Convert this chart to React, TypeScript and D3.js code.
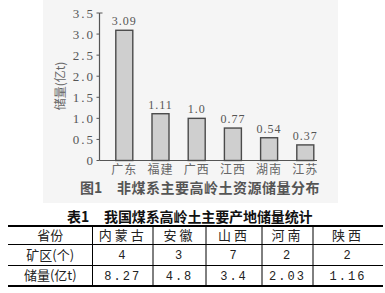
import React from "react";
import * as d3 from "d3";

const categories = ["广东", "福建", "广西", "江西", "湖南", "江苏"];
const values = [3.09, 1.11, 1.0, 0.77, 0.54, 0.37];
const valueLabels = ["3.09", "1.11", "1.0", "0.77", "0.54", "0.37"];
const yTicks = [0, 0.5, 1.0, 1.5, 2.0, 2.5, 3.0, 3.5];

const tableHeader = ["省份", "内蒙古", "安徽", "山西", "河南", "陕西"];
const tableMines = ["矿区(个)", "4", "3", "7", "2", "2"];
const tableReserves = ["储量(亿t)", "8.27", "4.8", "3.4", "2.03", "1.16"];

const W = 385;
const H = 293;
const CJK = "'Noto Sans CJK SC', sans-serif";
const SERIF = "'Liberation Serif', 'DejaVu Serif', serif";
const MONO = "'Liberation Mono', 'DejaVu Sans Mono', monospace";

export default function App() {
  const y = d3.scaleLinear().domain([0, 3.5]).range([160.5, 13]);
  const x = d3.scalePoint<string>().domain(categories).range([124.3, 305.3]);
  const barW = 17;
  const axisX = 99.5;

  const colEdges = [8, 92.5, 153, 206, 262, 313, 383];
  const rowYs = [226, 244.5, 265.5, 286];
  const rows = [tableHeader, tableMines, tableReserves];

  return (
    <svg
      width={W}
      height={H}
      style={{ position: "absolute", left: 0, top: 0, background: "#fff" }}
    >
      <rect x={43} y={0} width={295} height={203} fill="#f5f5f5" />
      {/* axes */}
      <line x1={axisX} x2={axisX} y1={y(3.5)} y2={y(0)} stroke="#555" strokeWidth={1.2} />
      <line x1={axisX} x2={317} y1={y(0)} y2={y(0)} stroke="#555" strokeWidth={1.2} />
      {yTicks.map((t) => (
        <g key={t}>
          <line
            x1={axisX - 3}
            x2={axisX}
            y1={y(t)}
            y2={y(t)}
            stroke="#555"
            strokeWidth={1}
          />
          <text
            x={95}
            y={y(t)}
            dy="0.35em"
            textAnchor="end"
            fontFamily={SERIF}
            fontSize={13}
            letterSpacing={2}
            fill="#555"
          >
            {t === 0 ? "0" : t.toFixed(1)}
          </text>
        </g>
      ))}
      <line x1={axisX} x2={axisX + 3} y1={y(3.5)} y2={y(3.5)} stroke="#555" strokeWidth={1} />
      <text
        transform={`translate(61,86) rotate(-90)`}
        textAnchor="middle"
        dy="0.35em"
        fontFamily={CJK}
        fontSize={12}
        fill="#666"
      >
        储量(亿t)
      </text>
      {/* bars */}
      {categories.map((c, i) => (
        <g key={c}>
          <rect
            x={(x(c) as number) - barW / 2}
            y={y(values[i])}
            width={barW}
            height={y(0) - y(values[i])}
            fill="#cfcfcf"
            stroke="#4a4a4a"
            strokeWidth={1.4}
          />
          <text
            x={x(c) as number}
            y={y(values[i]) - 5}
            textAnchor="middle"
            fontFamily={SERIF}
            fontSize={12}
            letterSpacing={1}
            fill="#555"
          >
            {valueLabels[i]}
          </text>
          <text
            x={x(c) as number}
            y={174}
            textAnchor="middle"
            fontFamily={CJK}
            fontSize={12}
            letterSpacing={1}
            fill="#666"
          >
            {c}
          </text>
        </g>
      ))}
      {/* caption */}
      <text x={80} y={193} fontFamily={CJK} fontSize={14} fontWeight="bold" fill="#555">
        图1
      </text>
      <text x={117} y={193} fontFamily={CJK} fontSize={14} fontWeight="bold" fill="#555" letterSpacing={0.5}>
        非煤系主要高岭土资源储量分布
      </text>
      {/* table title */}
      <text x={67} y={221.5} fontFamily={CJK} fontSize={14} fontWeight="bold" fill="#111">
        表1
      </text>
      <text x={104} y={221.5} fontFamily={CJK} fontSize={14} fontWeight="bold" fill="#111" letterSpacing={-0.1}>
        我国煤系高岭土主要产地储量统计
      </text>
      {/* table lines */}
      <line x1={colEdges[0]} x2={colEdges[6]} y1={rowYs[0]} y2={rowYs[0]} stroke="#000" strokeWidth={2} />
      <line x1={colEdges[0]} x2={colEdges[6]} y1={rowYs[1]} y2={rowYs[1]} stroke="#000" strokeWidth={1} />
      <line x1={colEdges[0]} x2={colEdges[6]} y1={rowYs[2]} y2={rowYs[2]} stroke="#000" strokeWidth={1} />
      <line x1={colEdges[0]} x2={colEdges[6]} y1={rowYs[3]} y2={rowYs[3]} stroke="#000" strokeWidth={2} />
      {colEdges.slice(1, 6).map((cx) => (
        <line key={cx} x1={cx} x2={cx} y1={rowYs[0]} y2={rowYs[3]} stroke="#000" strokeWidth={1} />
      ))}
      {rows.map((row, r) =>
        row.map((cell, ci) => {
          const cx = (colEdges[ci] + colEdges[ci + 1]) / 2;
          const cy = (rowYs[r] + rowYs[r + 1]) / 2;
          const isNum = ci > 0 && r > 0;
          return (
            <text
              key={`${r}-${ci}`}
              x={cx}
              y={cy}
              dy="0.36em"
              textAnchor="middle"
              fontFamily={isNum ? MONO : CJK}
              fontSize={isNum ? 12 : 13}
              letterSpacing={isNum ? 2 : ci === 0 ? 0 : 3}
              fill="#222"
            >
              {cell}
            </text>
          );
        })
      )}
    </svg>
  );
}
